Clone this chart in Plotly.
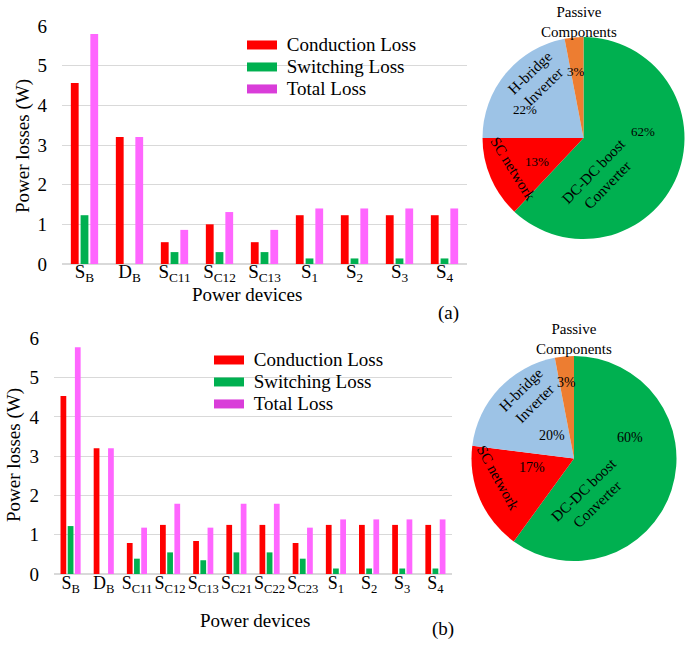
import plotly.graph_objects as go

W, H = 689, 646
FONT = "Liberation Serif"

# ---------------- data ----------------
cats_a = ["SB", "DB", "SC11", "SC12", "SC13", "S1", "S2", "S3", "S4"]
labels_a = ["S<sub>B</sub>", "D<sub>B</sub>", "S<sub>C11</sub>", "S<sub>C12</sub>", "S<sub>C13</sub>",
            "S<sub>1</sub>", "S<sub>2</sub>", "S<sub>3</sub>", "S<sub>4</sub>"]
cond_a = [4.56, 3.2, 0.55, 1.0, 0.55, 1.23, 1.23, 1.23, 1.23]
sw_a = [1.23, 0.0, 0.3, 0.3, 0.3, 0.14, 0.14, 0.14, 0.14]
tot_a = [5.8, 3.2, 0.86, 1.31, 0.86, 1.4, 1.4, 1.4, 1.4]

cats_b = ["SB", "DB", "SC11", "SC12", "SC13", "SC21", "SC22", "SC23", "S1", "S2", "S3", "S4"]
labels_b = ["S<sub>B</sub>", "D<sub>B</sub>", "S<sub>C11</sub>", "S<sub>C12</sub>", "S<sub>C13</sub>",
            "S<sub>C21</sub>", "S<sub>C22</sub>", "S<sub>C23</sub>",
            "S<sub>1</sub>", "S<sub>2</sub>", "S<sub>3</sub>", "S<sub>4</sub>"]
cond_b = [4.53, 3.2, 0.79, 1.25, 0.84, 1.25, 1.25, 0.79, 1.25, 1.25, 1.25, 1.25]
sw_b = [1.22, 0.0, 0.39, 0.55, 0.35, 0.55, 0.55, 0.39, 0.14, 0.14, 0.14, 0.14]
tot_b = [5.77, 3.2, 1.18, 1.79, 1.18, 1.79, 1.79, 1.18, 1.39, 1.39, 1.39, 1.39]

series_names = ["Conduction Loss", "Switching Loss", "Total Loss"]

pie_labels = ["DC-DC boost Converter", "SC network", "H-bridge Inverter", "Passive Components"]
pie_a = [62, 13, 22, 3]
pie_b = [60, 17, 20, 3]

# ---------------- styles ----------------
bar_colors = ["#FF0000", "#00B050", "#FF66FF"]
legend_colors = ["#FF0000", "#00B050", "#D93DD9"]
pie_colors = ["#00B050", "#FF0000", "#9DC3E6", "#ED7D31"]
GRID = "#D9D9D9"


def px(x):
    return x / W


def py(y):
    return 1 - y / H


def big(name):
    return f'<span style="font-size:19px">&nbsp;{name}</span>'


fig = go.Figure()

for vals, name, col in zip([cond_a, sw_a, tot_a], series_names, bar_colors):
    fig.add_trace(go.Bar(x=cats_a, y=vals, name=name, marker=dict(color=col, line=dict(width=0)),
                         xaxis="x", yaxis="y", showlegend=False))
for vals, name, col in zip([cond_b, sw_b, tot_b], series_names, bar_colors):
    fig.add_trace(go.Bar(x=cats_b, y=vals, name=name, marker=dict(color=col, line=dict(width=0)),
                         xaxis="x2", yaxis="y2", showlegend=False))

# legend swatches (wide rectangles)
for name, col in zip(series_names, legend_colors):
    fig.add_trace(go.Scatter(x=[None], y=[None], mode="lines", name=big(name),
                             line=dict(color=col, width=9), xaxis="x", yaxis="y", legend="legend"))
for name, col in zip(series_names, legend_colors):
    fig.add_trace(go.Scatter(x=[None], y=[None], mode="lines", name=big(name),
                             line=dict(color=col, width=9), xaxis="x2", yaxis="y2", legend="legend2"))

# pies
fig.add_trace(go.Pie(labels=pie_labels, values=pie_a, sort=False, direction="clockwise", rotation=0,
                     marker=dict(colors=pie_colors, line=dict(width=0)), textinfo="none",
                     showlegend=False, domain=dict(x=[px(482.5), px(684.5)], y=[py(239), py(37)])))
fig.add_trace(go.Pie(labels=pie_labels, values=pie_b, sort=False, direction="clockwise", rotation=0,
                     marker=dict(colors=pie_colors, line=dict(width=0)), textinfo="none",
                     showlegend=False, domain=dict(x=[px(471), px(677)], y=[py(561), py(356)])))

axis_font = dict(family=FONT, size=19, color="black")

xa = dict(type="category", showgrid=False, showline=False, zeroline=False, ticks="",
          tickfont=axis_font, tickangle=0, automargin=False)
ya = dict(range=[0, 6], dtick=1, showgrid=True, gridcolor=GRID, gridwidth=1, zeroline=True,
          zerolinecolor=GRID, zerolinewidth=2, showline=False, ticks="", tickfont=axis_font,
          ticklabelstandoff=14, automargin=False)

fig.update_layout(
    width=W, height=H, margin=dict(l=0, r=0, t=0, b=0, autoexpand=False),
    paper_bgcolor="white", plot_bgcolor="white",
    barmode="group", bargap=0.35, bargroupgap=0.2,
    font=dict(family=FONT, size=19, color="black"),
    xaxis=dict(xa, domain=[px(62), px(467)], anchor="y", tickvals=cats_a, ticktext=labels_a,
               ticklabelstandoff=-6),
    yaxis=dict(ya, domain=[py(264), py(26)], anchor="x"),
    xaxis2=dict(xa, domain=[px(54), px(452)], anchor="y2", tickvals=cats_b, ticktext=labels_b,
                tickfont=dict(family=FONT, size=18, color="black"), ticklabelstandoff=-4),
    yaxis2=dict(ya, domain=[py(574), py(338.3)], anchor="x2"),
    legend=dict(x=px(242), y=py(29), xanchor="left", yanchor="top", bgcolor="rgba(0,0,0,0)",
                font=dict(family=FONT, size=14.6, color="black"), borderwidth=0),
    legend2=dict(x=px(209), y=py(344), xanchor="left", yanchor="top", bgcolor="rgba(0,0,0,0)",
                 font=dict(family=FONT, size=14.6, color="black"), borderwidth=0),
)

ann = []


def add(text, x, y, size=19, angle=0):
    ann.append(dict(text=text, x=px(x), y=py(y), xref="paper", yref="paper", showarrow=False,
                    xanchor="center", yanchor="middle", textangle=angle,
                    font=dict(family=FONT, size=size, color="black")))


# axis titles
add("Power losses (W)", 23, 146, angle=-90)
add("Power devices", 247, 295)
add("(a)", 448, 313)
add("Power losses (W)", 14, 455, angle=-90)
add("Power devices", 255, 620)
add("(b)", 443, 629)

# pie texts (a)
add("Passive<br>Components", 579, 22, size=15)
add(f"{pie_a[3]}%", 576, 71, size=13)
add("H-bridge<br>Inverter", 537, 80, size=15, angle=-44)
add(f"{pie_a[2]}%", 525, 110, size=13)
add("SC network", 513, 169, size=15, angle=58)
add(f"{pie_a[1]}%", 537, 161, size=13)
add(f"{pie_a[0]}%", 643, 131, size=13)
add("DC-DC boost<br>Converter", 601, 178, size=15, angle=-46)

# pie texts (b)
add("Passive<br>Components", 574, 339, size=15)
add(f"{pie_b[3]}%", 566, 382, size=14)
add("H-bridge<br>Inverter", 528, 397, size=15, angle=-45)
add(f"{pie_b[2]}%", 552, 435, size=14)
add("SC network", 498, 478, size=15, angle=61)
add(f"{pie_b[1]}%", 532, 467, size=14)
add(f"{pie_b[0]}%", 630, 437, size=14)
add("DC-DC boost<br>Converter", 591, 497, size=15, angle=-44)

fig.update_layout(annotations=ann)

fig.write_html("out.html", config={"displayModeBar": False},
               post_script="document.body.style.margin='0';")
